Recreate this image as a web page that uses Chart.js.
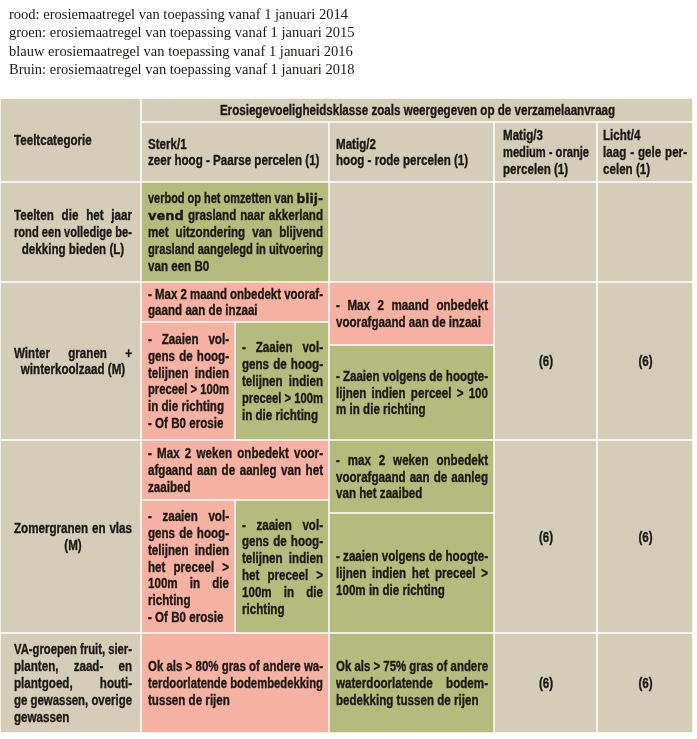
<!DOCTYPE html>
<html>
<head>
<meta charset="utf-8">
<title>Erosiemaatregelen per teeltcategorie</title>
<script src="https://cdn.jsdelivr.net/npm/chart.js"></script>
<style>
  html, body { margin: 0; padding: 0; background: #fff; }
  #chart { display: block; }
</style>
</head>
<body>
<canvas id="chart" width="697" height="739"></canvas>
<script>
// text above the table
const introLines = [
  'rood: erosiemaatregel van toepassing vanaf 1 januari 2014',
  'groen: erosiemaatregel van toepassing vanaf 1 januari 2015',
  'blauw erosiemaatregel van toepassing vanaf 1 januari 2016',
  'Bruin: erosiemaatregel van toepassing vanaf 1 januari 2018'
];

// headers
const tableTitle = 'Erosiegevoeligheidsklasse zoals weergegeven op de verzamelaanvraag';
const firstHeader = 'Teeltcategorie';
const classHeaders = [
  ['Sterk/1', 'zeer hoog - Paarse percelen (1)'],
  ['Matig/2', 'hoog - rode percelen (1)'],
  ['Matig/3', 'medium - oranje', 'percelen (1)'],
  ['Licht/4', 'laag - gele per-', 'celen (1)']
];

// row labels (line breaks as printed)
const categories = [
  ['Teelten die het jaar', 'rond een volledige be-', 'dekking bieden (L)'],
  ['Winter granen +', 'winterkoolzaad (M)'],
  ['Zomergranen en vlas', '(M)'],
  ['VA-groepen fruit, sier-', 'planten, zaad- en', 'plantgoed, houti-', 'ge gewassen, overige', 'gewassen']
];

// measures, as paragraphs of printed lines; "~" marks words set in the wider face
const permanentGrass = [['verbod op het omzetten van ~blij-', '~vend grasland naar akkerland', 'met uitzondering van blijvend', 'grasland aangelegd in uitvoering', 'van een B0']];
const winterBare1 = [['- Max 2 maand onbedekt vooraf-', 'gaand aan de inzaai']];
const winterSowRed = [['- Zaaien vol-', 'gens de hoog-', 'telijnen indien', 'preceel > 100m', 'in die richting'], ['- Of B0 erosie']];
const winterSowGreen = [['- Zaaien vol-', 'gens de hoog-', 'telijnen indien', 'preceel > 100m', 'in die richting']];
const winterBare2 = [['- Max 2 maand onbedekt', 'voorafgaand aan de inzaai']];
const winterSow2 = [['- Zaaien volgens de hoogte-', 'lijnen indien perceel > 100', 'm in die richting']];
const summerBare1 = [['- Max 2 weken onbedekt voor-', 'afgaand aan de aanleg van het', 'zaaibed']];
const summerSowRed = [['- zaaien vol-', 'gens de hoog-', 'telijnen indien', 'het preceel >', '100m in die', 'richting'], ['- Of B0 erosie']];
const summerSowGreen = [['- zaaien vol-', 'gens de hoog-', 'telijnen indien', 'het preceel >', '100m in die', 'richting']];
const summerBare2 = [['- max 2 weken onbedekt', 'voorafgaand aan de aanleg', 'van het zaaibed']];
const summerSow2 = [['- zaaien volgens de hoogte-', 'lijnen indien het preceel >', '100m in die richting']];
const orchardCover1 = [['Ok als > 80% gras of andere wa-', 'terdoorlatende bodembedekking', 'tussen de rijen']];
const orchardCover2 = [['Ok als > 75% gras of andere', 'waterdoorlatende bodem-', 'bedekking tussen de rijen']];
const classNote = '(6)';

// colour code of each measure (rood 2014, groen 2015, bruin 2018)
const palette = { rood: '#f5b1a1', groen: '#b3bc7c', bruin: '#d6cdb9' };

// table grid, in page units
const colX = [0, 141, 235, 329, 494, 597, 693];
const rowY = { top: 98, sub: 122, L: 182, W: 282, Z: 440, V: 633, end: 733 };

const cells = [
  { c: [0, 1], y: [rowY.top, rowY.L], fill: 'bruin', text: [[firstHeader]], align: 'left', pad: [14, 8] },
  { c: [1, 6], y: [rowY.top, rowY.sub], fill: 'bruin', text: [[tableTitle]], align: 'center' },
  { c: [1, 3], y: [rowY.sub, rowY.L], fill: 'bruin', text: [classHeaders[0]], align: 'left' },
  { c: [3, 4], y: [rowY.sub, rowY.L], fill: 'bruin', text: [classHeaders[1]], align: 'left' },
  { c: [4, 5], y: [rowY.sub, rowY.L], fill: 'bruin', text: [classHeaders[2]], align: 'justify', pad: [9, 8] },
  { c: [5, 6], y: [rowY.sub, rowY.L], fill: 'bruin', text: [classHeaders[3]], align: 'justify', pad: [6, 6] },

  { c: [0, 1], y: [rowY.L, rowY.W], fill: 'bruin', text: [categories[0]], align: 'justifyCenter', pad: [14, 9] },
  { c: [1, 3], y: [rowY.L, rowY.W], fill: 'groen', text: permanentGrass, align: 'justify' },
  { c: [3, 4], y: [rowY.L, rowY.W], fill: 'bruin', text: [] },
  { c: [4, 5], y: [rowY.L, rowY.W], fill: 'bruin', text: [] },
  { c: [5, 6], y: [rowY.L, rowY.W], fill: 'bruin', text: [] },

  { c: [0, 1], y: [rowY.W, rowY.Z], fill: 'bruin', text: [categories[1]], align: 'justifyCenter', pad: [14, 9] },
  { c: [1, 3], y: [rowY.W, 322], fill: 'rood', text: winterBare1, align: 'justify' },
  { c: [1, 2], y: [322, rowY.Z], fill: 'rood', text: winterSowRed, align: 'justify' },
  { c: [2, 3], y: [322, rowY.Z], fill: 'groen', text: winterSowGreen, align: 'justify' },
  { c: [3, 4], y: [rowY.W, 345], fill: 'rood', text: winterBare2, align: 'justify' },
  { c: [3, 4], y: [345, rowY.Z], fill: 'groen', text: winterSow2, align: 'justify' },
  { c: [4, 5], y: [rowY.W, rowY.Z], fill: 'bruin', text: [[classNote]], align: 'center' },
  { c: [5, 6], y: [rowY.W, rowY.Z], fill: 'bruin', text: [[classNote]], align: 'center' },

  { c: [0, 1], y: [rowY.Z, rowY.V], fill: 'bruin', text: [categories[2]], align: 'justifyCenter', pad: [14, 9] },
  { c: [1, 3], y: [rowY.Z, 500], fill: 'rood', text: summerBare1, align: 'justify' },
  { c: [1, 2], y: [500, rowY.V], fill: 'rood', text: summerSowRed, align: 'justify' },
  { c: [2, 3], y: [500, rowY.V], fill: 'groen', text: summerSowGreen, align: 'justify' },
  { c: [3, 4], y: [rowY.Z, 513], fill: 'groen', text: summerBare2, align: 'justify' },
  { c: [3, 4], y: [513, rowY.V], fill: 'groen', text: summerSow2, align: 'justify' },
  { c: [4, 5], y: [rowY.Z, rowY.V], fill: 'bruin', text: [[classNote]], align: 'center' },
  { c: [5, 6], y: [rowY.Z, rowY.V], fill: 'bruin', text: [[classNote]], align: 'center' },

  { c: [0, 1], y: [rowY.V, rowY.end], fill: 'bruin', text: [categories[3]], align: 'justify', pad: [14, 9] },
  { c: [1, 3], y: [rowY.V, rowY.end], fill: 'rood', text: orchardCover1, align: 'justify' },
  { c: [3, 4], y: [rowY.V, rowY.end], fill: 'groen', text: orchardCover2, align: 'justify' },
  { c: [4, 5], y: [rowY.V, rowY.end], fill: 'bruin', text: [[classNote]], align: 'center' },
  { c: [5, 6], y: [rowY.V, rowY.end], fill: 'bruin', text: [[classNote]], align: 'center' }
];

// a condensed bold sans: Liberation Sans Bold squeezed horizontally
const fontMain = "bold 14.5px 'Liberation Sans', Arial, sans-serif";
const fontWide = "bold 13px 'DejaVu Sans', sans-serif";
const CX = 0.8;
const LH = 16.8;
const INK = '#1c1815';

function isWide(w) { return w[0] === '~'; }
function wordText(w) { return isWide(w) ? w.slice(1) : w; }

function drawLine(ctx, line, left, right, y, mode) {
  const words = line.split(' ');
  const widths = words.map(w => {
    ctx.font = isWide(w) ? fontWide : fontMain;
    return ctx.measureText(wordText(w)).width * (isWide(w) ? 1 : CX);
  });
  ctx.font = fontMain;
  const space = ctx.measureText(' ').width * CX;
  const sum = widths.reduce((a, b) => a + b, 0);
  const avail = right - left;
  const natural = sum + space * (words.length - 1);
  const sx = natural > avail ? avail / natural : 1;
  let gap = space * sx;
  if (mode === 'justify' && words.length > 1 && natural <= avail) gap = (avail - sum) / (words.length - 1);
  const total = sum * sx + gap * (words.length - 1);
  let x = left;
  if (mode === 'center') x = (left + right) / 2 - total / 2;
  words.forEach((w, i) => {
    ctx.save();
    ctx.translate(x, y);
    ctx.scale(sx * (isWide(w) ? 1 : CX), 1);
    ctx.font = isWide(w) ? fontWide : fontMain;
    ctx.fillText(wordText(w), 0, 0);
    ctx.strokeText(wordText(w), 0, 0);
    ctx.restore();
    x += widths[i] * sx + gap;
  });
}

const tablePlugin = {
  id: 'erosionTable',
  afterDraw(chart) {
    const { ctx, scales: { x, y } } = chart;
    ctx.save();
    ctx.fillStyle = INK;
    ctx.textBaseline = 'alphabetic';

    // lines above the table, a garamond-like serif
    ctx.font = "15.5px 'Liberation Serif', 'DejaVu Serif', serif";
    const k = (x.getPixelForValue(348) - x.getPixelForValue(9)) / ctx.measureText(introLines[0]).width;
    introLines.forEach((t, i) => {
      ctx.save();
      ctx.translate(x.getPixelForValue(9), y.getPixelForValue(18.5 + i * 18.5));
      ctx.scale(k, 1);
      ctx.fillText(t, 0, 0);
      ctx.restore();
    });

    ctx.strokeStyle = INK;
    ctx.lineWidth = 0.35;
    cells.forEach(cell => {
      const x0 = x.getPixelForValue(colX[cell.c[0]]);
      const x1 = x.getPixelForValue(colX[cell.c[1]]);
      const y0 = y.getPixelForValue(cell.y[0]);
      const y1 = y.getPixelForValue(cell.y[1]);
      ctx.fillStyle = palette[cell.fill];
      ctx.fillRect(x0 + 0.75, y0 + 0.75, x1 - x0 - 1.5, y1 - y0 - 1.5);

      const lines = [];
      cell.text.forEach(para => para.forEach((l, i) => {
        let mode = cell.align;
        if (mode === 'justify') mode = i === para.length - 1 ? 'left' : 'justify';
        else if (mode === 'justifyCenter') mode = i === para.length - 1 ? 'center' : 'justify';
        lines.push({ l, mode });
      }));
      if (!lines.length) return;
      const pad = cell.pad || [7, 6];
      const cy = (y0 + y1) / 2;
      ctx.fillStyle = INK;
      lines.forEach((ln, i) => {
        const ly = cy + (i - (lines.length - 1) / 2) * LH + 5;
        drawLine(ctx, ln.l, x0 + pad[0], x1 - pad[1], ly, ln.mode);
      });
    });
    ctx.restore();
  }
};

new Chart(document.getElementById('chart'), {
  type: 'scatter',
  data: { datasets: [] },
  options: {
    responsive: false,
    animation: false,
    events: [],
    layout: { padding: 0 },
    plugins: { legend: { display: false }, tooltip: { enabled: false } },
    scales: {
      x: { type: 'linear', min: 0, max: 697, display: false },
      y: { type: 'linear', min: 0, max: 739, reverse: true, display: false }
    }
  },
  plugins: [tablePlugin]
});
</script>
</body>
</html>
